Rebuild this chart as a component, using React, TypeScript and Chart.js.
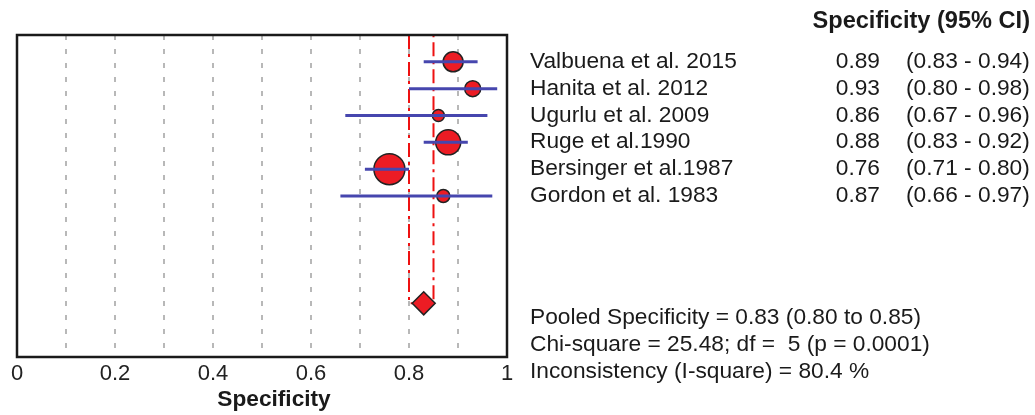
import React, { useEffect, useRef } from "react";
import { Chart, registerables } from "chart.js";

Chart.register(...registerables);

const studies = [
  "Valbuena et al. 2015",
  "Hanita et al. 2012",
  "Ugurlu et al. 2009",
  "Ruge et al.1990",
  "Bersinger et al.1987",
  "Gordon et al. 1983",
];
const specificity = [0.89, 0.93, 0.86, 0.88, 0.76, 0.87];
const ciLower = [0.83, 0.8, 0.67, 0.83, 0.71, 0.66];
const ciUpper = [0.94, 0.98, 0.96, 0.92, 0.8, 0.97];
const studyWeight = [10, 8, 6, 12.5, 15.5, 6.5];
const pooled = 0.83;
const pooledLower = 0.8;
const pooledUpper = 0.85;
const pooledRow = 9;
const statLines = [
  "Pooled Specificity = 0.83 (0.80 to 0.85)",
  "Chi-square = 25.48; df =  5 (p = 0.0001)",
  "Inconsistency (I-square) = 80.4 %",
];
const headerText = "Specificity (95% CI)";
const axisTitle = "Specificity";

const FONT = '"Liberation Sans", Arial, sans-serif';
const SX = 1.033;

const fmt2 = (v: number) => v.toFixed(2);

function drawText(ctx: any, text: string, x: number, y: number, align: string, sx = SX) {
  ctx.save();
  ctx.translate(x, y);
  ctx.scale(sx, 1);
  ctx.textAlign = align;
  ctx.fillText(text, 0, 0);
  ctx.restore();
}

const textPlugin = {
  id: "forestText",
  afterDraw(chart: any) {
    const { ctx, chartArea, scales } = chart;
    const y = scales.y;
    ctx.save();
    // frame
    ctx.strokeStyle = "#1a1a1a";
    ctx.lineWidth = 2.5;
    ctx.strokeRect(chartArea.left, chartArea.top, chartArea.right - chartArea.left, chartArea.bottom - chartArea.top);

    ctx.fillStyle = "#1a1a1a";
    ctx.textBaseline = "middle";
    ctx.font = "bold 23px " + FONT;
    drawText(ctx, headerText, 1030, 22, "right", 1.025);

    ctx.font = "bold 22px " + FONT;
    drawText(ctx, axisTitle, 274, 400, "center", 1.03);

    ctx.font = "22px " + FONT;
    studies.forEach((name, i) => {
      const py = y.getPixelForValue(i);
      drawText(ctx, name, 530, py, "left");
      drawText(ctx, fmt2(specificity[i]), 880, py, "right");
      drawText(ctx, "(" + fmt2(ciLower[i]) + " - " + fmt2(ciUpper[i]) + ")", 906, py, "left");
    });
    statLines.forEach((t, i) => {
      drawText(ctx, t, 530, y.getPixelForValue(pooledRow + 0.55 + i), "left");
    });
    ctx.restore();
  },
};

export default function App() {
  const ref = useRef<HTMLCanvasElement | null>(null);
  useEffect(() => {
    if (!ref.current) return;
    const ciSets = studies.map((_, i) => ({
      type: "line" as const,
      data: [
        { x: ciLower[i], y: i },
        { x: ciUpper[i], y: i },
      ],
      borderColor: "#4646ae",
      borderWidth: 3,
      pointRadius: 0,
      showLine: true,
      fill: false,
    }));
    const chart = new Chart(ref.current, {
      type: "scatter",
      data: {
        datasets: [
          ...ciSets,
          {
            type: "scatter",
            data: studies.map((_, i) => ({ x: specificity[i], y: i })),
            pointRadius: studyWeight,
            pointStyle: "circle",
            backgroundColor: "#ec1c24",
            borderColor: "#222222",
            borderWidth: 1.5,
          },
          {
            type: "scatter",
            data: [{ x: pooled, y: pooledRow }],
            pointRadius: 11.5,
            pointStyle: "rectRot",
            backgroundColor: "#ec1c24",
            borderColor: "#222222",
            borderWidth: 1.5,
          },
          {
            type: "line",
            data: [
              { x: pooledLower, y: -1 },
              { x: pooledLower, y: pooledRow },
              { x: pooledUpper, y: pooledRow },
              { x: pooledUpper, y: -1 },
            ],
            borderColor: "#ee1111",
            borderWidth: 2,
            borderDash: [14, 5, 3, 5],
            pointRadius: 0,
            showLine: true,
            fill: false,
          },
        ] as any,
      },
      options: {
        animation: false,
        responsive: false,
        events: [],
        layout: { padding: { left: 17, top: 35, right: 528, bottom: 0 } },
        plugins: { legend: { display: false }, tooltip: { enabled: false } },
        scales: {
          x: {
            type: "linear",
            min: 0,
            max: 1,
            afterFit: (s: any) => {
              s.height = 58;
            },
            ticks: {
              stepSize: 0.1,
              autoSkip: false,
              maxRotation: 0,
              padding: 4,
              color: "#222222",
              font: { family: FONT, size: 22 },
              callback: (v: any) => {
                const r = Math.round(Number(v) * 10);
                if (r % 2 !== 0) return "";
                if (r === 0) return "0";
                if (r === 10) return "1";
                return (r / 10).toFixed(1);
              },
            },
            grid: {
              drawTicks: false,
              lineWidth: 2,
              color: (c: any) => {
                const v = c.tick ? c.tick.value : 0;
                const r = Math.round(v * 10);
                return r === 0 || r === 10 ? "rgba(0,0,0,0)" : "#b8b8b8";
              },
            },
            border: { display: false, dash: [5, 9] },
            title: { display: false },
          },
          y: {
            type: "linear",
            display: false,
            min: -1,
            max: 11,
            reverse: true,
          },
        },
      } as any,
      plugins: [textPlugin],
    });
    return () => chart.destroy();
  }, []);
  return (
    <div style={{ position: "absolute", left: 0, top: 0, width: 1035, height: 415, background: "#fff" }}>
      <canvas ref={ref} width={1035} height={415} />
    </div>
  );
}
